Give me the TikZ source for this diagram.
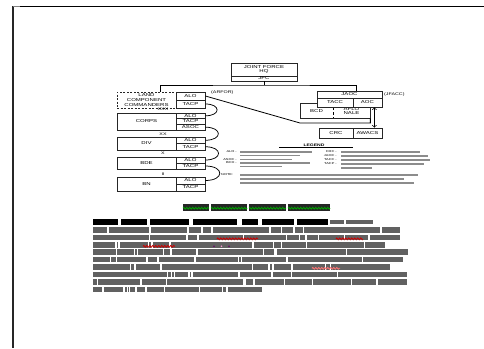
\documentclass[tikz,border=0pt]{standalone}
\usepackage{fontspec}
\newfontfamily\boxfont[FakeStretch=1.4]{Liberation Sans}
\usepackage{tikz}
\usetikzlibrary{arrows}
\usetikzlibrary{decorations.pathmorphing}

\begin{document}
\begin{tikzpicture}[x=1pt, y=-1pt,
    box/.style={draw=black!85, line width=0.75pt, inner sep=0pt, align=center,
                font=\boxfont\fontsize{4.3}{4.6}\selectfont},
    sub/.style={box, minimum width=29pt},
    tag/.style={inner sep=0pt, align=center, font=\boxfont\fontsize{3.8}{4.2}\selectfont},
    key/.style={inner sep=0pt, anchor=east, font=\boxfont\fontsize{2.8}{3}\selectfont},
    bar/.style={fill=black!45},
    txt/.style={fill=black!62},
    squig/.style={decorate, decoration={zigzag, segment length=3pt, amplitude=0.9pt},
                  line width=0.8pt}]
      \useasboundingbox (0,0) rectangle (484,348);

      \draw[line width=2pt, black!85] (13,6) -- (13,348);
      \draw[line width=0.9pt] (13,6) -- (484,6);
      \draw[line width=1.4pt, gray] (13,6.6) -- (20,6.6);

      \node[box, minimum width=66pt, minimum height=13pt] (jfhq) at (264,69.5) {JOINT FORCE\\HQ};
      \node[box, minimum width=66pt, minimum height=5pt]  (jfc)  at (264,78.5) {JFC};
      \coordinate (bus) at (264,85);

      \node[box, dash pattern=on 2pt off 1.5pt, minimum width=59pt, minimum height=16pt]
            (lcc) at (146.5,100) {LAND\\COMPONENT\\COMMANDERS};
      \node[sub, minimum height=8pt] (alo0)  at (190.5,96)  {ALO};
      \node[sub, minimum height=8pt] (tacp0) at (190.5,104) {TACP};
      \node[tag, anchor=west] (arfor) at (211,92.5) {(ARFOR)};

      \node[tag] (xxx) at (163,109.5) {XXX};
      \node[box, minimum width=59pt, minimum height=17pt] (corps) at (146.5,121.5) {CORPS};
      \node[sub, minimum height=5.67pt] (alo1)  at (190.5,115.8) {ALO};
      \node[sub, minimum height=5.67pt] (tacp1) at (190.5,121.5) {TACP};
      \node[sub, minimum height=5.67pt] (asoc1) at (190.5,127.2) {ASOC};

      \node[tag] (xx) at (163,134) {XX};
      \node[box, minimum width=59pt, minimum height=13pt] (div) at (146.5,143.5) {DIV};
      \node[sub, minimum height=6.5pt] (alo2)  at (190.5,140.25) {ALO};
      \node[sub, minimum height=6.5pt] (tacp2) at (190.5,146.75) {TACP};

      \node[tag] (x) at (163,153.5) {X};
      \node[box, minimum width=59pt, minimum height=12pt] (bde) at (146.5,163) {BDE};
      \node[sub, minimum height=6pt] (alo3)  at (190.5,160) {ALO};
      \node[sub, minimum height=6pt] (tacp3) at (190.5,166) {TACP};

      \node[tag] (ii) at (163,174) {II};
      \node[box, minimum width=59pt, minimum height=14pt] (bn) at (146.5,184) {BN};
      \node[sub, minimum height=7pt] (alo4)  at (190.5,180.5) {ALO};
      \node[sub, minimum height=7pt] (tacp4) at (190.5,187.5) {TACP};

      \draw[line width=0.75pt] (tacp0.east) to[out=0, in=0, looseness=3.4] (alo1.east);
      \draw[line width=0.75pt] (asoc1.east) to[out=0, in=0, looseness=3.4] (alo2.east);
      \draw[line width=0.75pt] (tacp2.east) to[out=0, in=0, looseness=3.4] (alo3.east);
      \draw[line width=0.75pt] (tacp3.east) to[out=0, in=0, looseness=3.4] (alo4.east);

      \node[box, minimum width=70pt, minimum height=15pt] (lno) at (335,110.5) {};
      \node[tag, font=\boxfont\fontsize{4.3}{4.6}\selectfont] (bcd)  at (316.5,111) {BCD};
      \node[tag, font=\boxfont\fontsize{4.3}{4.6}\selectfont] (aflo) at (351.5,111) {AFLO\\NALE};
      \draw[densely dashed] (333,107) -- (333,118);
      \node[box, fill=white, minimum width=65pt, minimum height=7pt] (jaoc) at (349.5,94.5)  {JAOC};
      \node[box, fill=white, minimum width=36pt, minimum height=9pt] (tacc) at (335,102.5)   {TACC};
      \node[box, fill=white, minimum width=29pt, minimum height=9pt] (aoc)  at (367.5,102.5) {AOC};
      \node[tag, anchor=west] (jfacc) at (384,95) {(JFACC)};

      \node[box, minimum width=34pt, minimum height=10pt] (crc)   at (336,133)   {CRC};
      \node[box, minimum width=29pt, minimum height=10pt] (awacs) at (367.5,133) {AWACS};

      \draw[line width=0.75pt] (jfc.south) -- (bus);
      \draw[line width=0.75pt] ([xshift=13.5pt]lcc.north) |- (bus) -| ([xshift=6.5pt]jaoc.north);
      \draw[line width=0.8pt] (alo0.east) -- (300,123) -| (lno.south east);
      \draw[<->, line width=0.75pt] ([xshift=-8pt]aoc.south east) -- ([xshift=-8pt]awacs.north east);

      \node[tag, font=\boxfont\bfseries\fontsize{3.6}{4}\selectfont] (legend) at (314,145) {LEGEND};
      \draw[line width=0.4pt] (279,147.6) -- (353,147.6);
      \node[key] (k1) at (237,152)   {ALO -};
      \node[key] (k2) at (237,159.5) {ASOC -};
      \node[key] (k3) at (237,163)   {BCD -};
      \node[key] (k4) at (337,152)   {CRC -};
      \node[key] (k5) at (337,156)   {JAOC -};
      \node[key] (k6) at (337,160)   {TACC -};
      \node[key] (k7) at (337,164)   {TACP -};
      \foreach \ly/\la/\lb in {152/240/312, 155.5/240/300, 159.5/240/292, 163/240/310, 166.5/240/282,
                               152/341/420, 156/341/428, 160/341/430, 164/341/424, 168/341/372}
        \fill[bar] (\la,\ly-0.8) rectangle (\lb,\ly+0.8);
      \node[tag, anchor=west, font=\boxfont\fontsize{2.8}{3}\selectfont] (note) at (221,175) {NOTE:};
      \foreach \ly/\lb in {175/418, 179/404, 183/414}
        \fill[bar] (240,\ly-0.8) rectangle (\lb,\ly+0.8);

      \foreach \a/\b in {183/209, 211/247, 249/286, 288/330}{
        \fill[black!85] (\a,204) rectangle (\b,211);
        \draw[green!65!black, squig] (\a,208.2) -- (\b,208.2);
      }

      \foreach \a/\b in {93/118, 121/147, 150/189, 193/237, 242/258, 262/294, 297/328}
        \fill[black] (\a,219.2) rectangle (\b,224.8);
      \fill[txt] (330,219.6) rectangle (373,224.4);
      \fill[white] (344,219) rectangle (345.6,225);

      \pgfmathsetseed{11}
      \foreach \ty/\te in {230/400, 237.5/400, 245/385, 252/408, 259.5/403,
                           267/390, 274.5/407, 282/407, 289.5/262}{
        \fill[txt] (93,\ty-2.6) rectangle (\te,\ty+2.6);
        \foreach \k in {1,...,10}{
          \pgfmathsetmacro{\gx}{95+rnd*(\te-99)}
          \fill[white] (\gx,\ty-2.8) rectangle (\gx+1.5,\ty+2.8);
        }
      }

      \draw[red!80!black, squig] (217,238.8) -- (258,238.8);
      \draw[red!80!black, squig] (336,238.8) -- (363,238.8);
      \draw[red!80!black, squig] (143,246.3) -- (175,246.3);
      \draw[red!55, squig]       (312,268.3) -- (340,268.3);
      \fill[violet!80!black] (214,246.3) circle (0.9);
      \fill[magenta!40]      (221.5,246.3) circle (0.9);
      \fill[violet!80!black] (229,246.3) circle (0.9);
    \end{tikzpicture}
\end{document}
